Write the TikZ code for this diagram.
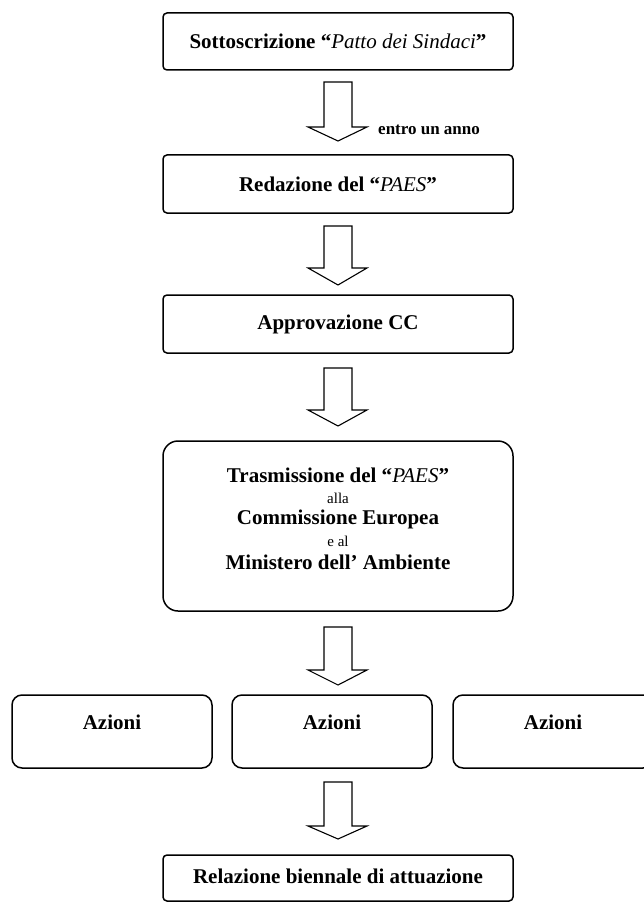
\documentclass[tikz,border=0pt]{standalone}
\usepackage{fontspec}
\setmainfont{Liberation Serif}
\begin{document}
\begin{tikzpicture}[x=1pt,y=-1pt,
  box/.style={draw, line width=1.5pt, rounded corners=4pt, minimum width=350pt, inner sep=0pt},
  azbox/.style={draw, line width=1.5pt, rounded corners=10pt, minimum width=200pt, minimum height=73pt, inner sep=0pt},
  txt/.style={font=\fontsize{21}{24}\selectfont\bfseries, inner sep=0pt},
  small/.style={font=\fontsize{15}{17}\selectfont, inner sep=0pt},
  blockarrow/.style={draw, line width=1.1pt, line join=miter}]
\useasboundingbox (0,0) rectangle (644,904);
\clip (0,0) rectangle (644,904);

\node[box, minimum height=57pt, txt] (b1) at (338,41.5) {Sottoscrizione “\textit{\mdseries Patto dei Sindaci}”};
\node[box, minimum height=58pt, txt] (b2) at (338,184) {Redazione del “\textit{\mdseries PAES}”};
\node[box, minimum height=58pt, txt] (b3) at (338,324) {Approvazione CC};
\node[box, rounded corners=15pt, minimum height=170pt] (b4) at (338,526) {};
\node[txt] (t4a) at (338,475) {Trasmissione del “\textit{\mdseries PAES}”};
\node[small] (t4b) at (338,498) {alla};
\node[txt] (t4c) at (338,519) {Commissione Europea};
\node[small] (t4d) at (338,541) {e al};
\node[txt] (t4e) at (338,562) {Ministero dell’ Ambiente};

\node[azbox] (a1) at (112,731.5) {};
\node[azbox] (a2) at (332,731.5) {};
\node[azbox] (a3) at (553,731.5) {};
\node[txt] (a1t) at (112,722) {Azioni};
\node[txt] (a2t) at (332,722) {Azioni};
\node[txt] (a3t) at (553,722) {Azioni};

\node[box, minimum height=46pt] (b5) at (338,878) {};
\node[txt] (b5t) at (338,876) {Relazione biennale di attuazione};

\node[font=\fontsize{17}{19}\selectfont\bfseries, anchor=west, inner sep=0pt] (lab) at (378,130) {entro un anno};

\newcommand\barrow[3]{%
  \draw[blockarrow] (324,#1) -- (352,#1) -- (352,#2) -- (367,#2) -- (338,#3) -- (308,#2) -- (324,#2) -- cycle;}
\barrow{82}{127}{141}
\barrow{226}{268}{285}
\barrow{368}{410}{426}
\barrow{627}{670}{685}
\barrow{782}{826}{839}
\end{tikzpicture}
\end{document}
